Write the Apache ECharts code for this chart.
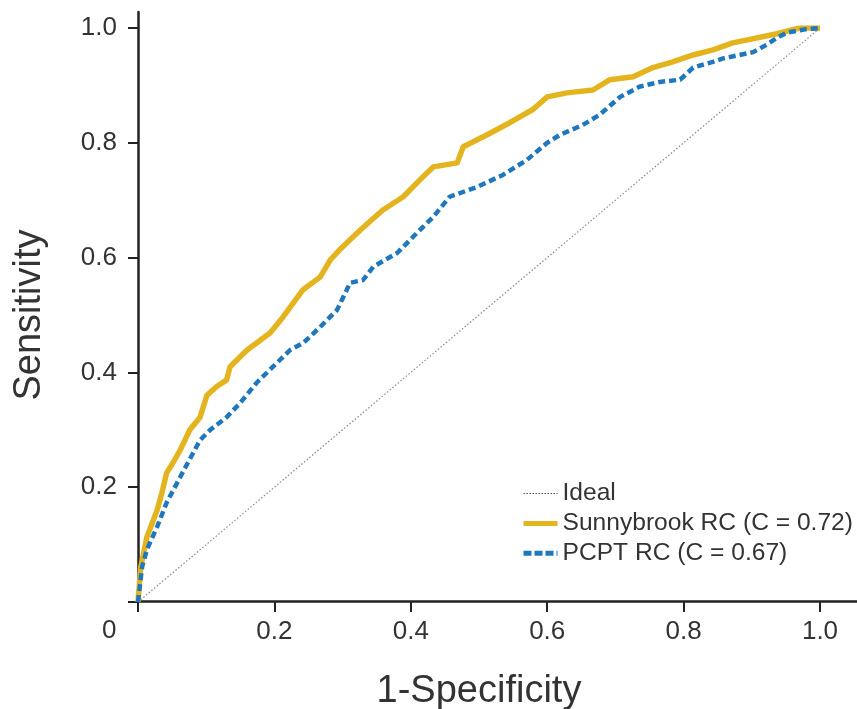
<!DOCTYPE html>
<html>
<head>
<meta charset="utf-8">
<script src="https://cdn.jsdelivr.net/npm/echarts@6/dist/echarts.min.js"></script>
<style>
html,body{margin:0;padding:0;background:#fff;}
#chart{width:857px;height:709px;}
</style>
</head>
<body>
<div id="chart"></div>
<script>
// ---- data ----
const xTicks = [0, 0.2, 0.4, 0.6, 0.8, 1.0];
const yTicks = [0, 0.2, 0.4, 0.6, 0.8, 1.0];
const seriesNames = ['Ideal', 'Sunnybrook RC (C = 0.72)', 'PCPT RC (C = 0.67)'];
const idealPoints = [[0, 0], [1, 1]];
const sunnybrookPoints = [
  [0,0],[0.004,0.06],[0.013,0.113],[0.02,0.135],[0.028,0.16],[0.035,0.19],
  [0.042,0.225],[0.05,0.24],[0.062,0.265],[0.076,0.30],[0.091,0.322],[0.101,0.36],
  [0.115,0.375],[0.130,0.387],[0.135,0.410],[0.160,0.439],[0.194,0.469],[0.213,0.497],
  [0.242,0.544],[0.267,0.566],[0.282,0.596],[0.296,0.614],[0.326,0.648],[0.359,0.683],
  [0.389,0.706],[0.418,0.741],[0.433,0.758],[0.468,0.765],[0.477,0.793],[0.512,0.814],
  [0.545,0.835],[0.579,0.858],[0.600,0.880],[0.629,0.887],[0.667,0.892],[0.692,0.910],
  [0.726,0.915],[0.755,0.931],[0.784,0.941],[0.814,0.953],[0.843,0.962],[0.872,0.974],
  [0.937,0.99],[0.97,1.0],[1,1]
];
const pcptPoints = [
  [0,0],[0.006,0.061],[0.013,0.091],[0.028,0.131],[0.042,0.173],[0.062,0.218],
  [0.081,0.26],[0.091,0.282],[0.106,0.300],[0.130,0.322],[0.150,0.347],[0.174,0.382],
  [0.198,0.410],[0.223,0.439],[0.242,0.451],[0.267,0.479],[0.292,0.509],[0.311,0.556],
  [0.330,0.561],[0.345,0.584],[0.380,0.608],[0.409,0.643],[0.433,0.671],[0.457,0.706],
  [0.497,0.723],[0.535,0.744],[0.570,0.770],[0.600,0.800],[0.619,0.814],[0.652,0.831],
  [0.677,0.849],[0.707,0.880],[0.736,0.898],[0.765,0.906],[0.795,0.910],[0.814,0.931],
  [0.843,0.941],[0.858,0.947],[0.902,0.958],[0.922,0.971],[0.937,0.983],[0.952,0.992],
  [0.98,0.998],[1,1]
];

const FONT = '"Liberation Sans", Arial, sans-serif';
const TXT = '#333333';
const GOLD = '#e4b41f';
const BLUE = '#1f77bd';
const IDEAL = '#8a8a8a';

const chart = echarts.init(document.getElementById('chart'), null, {renderer: 'canvas'});

const fmt = v => (Math.abs(v) < 1e-9 ? '' : v.toFixed(1));

chart.setOption({
  animation: false,
  backgroundColor: '#ffffff',
  grid: [
    {left: 138, right: 37, top: 28, bottom: 107, containLabel: false, outerBoundsMode: 'none'},
    {left: 138, right: 0, top: 12, bottom: 108, containLabel: false, outerBoundsMode: 'none'}
  ],
  xAxis: [
    {
      type: 'value', gridIndex: 0, min: xTicks[0], max: xTicks[xTicks.length - 1], interval: 0.2,
      axisLine: {show: false},
      axisTick: {show: true, length: 10, inside: false, lineStyle: {color: '#222', width: 2}},
      splitLine: {show: false},
      axisLabel: {formatter: fmt, fontSize: 26, color: TXT, fontFamily: FONT, margin: 17},
      name: '1-Specificity', nameLocation: 'middle', nameGap: 71,
      nameTextStyle: {fontSize: 38, color: TXT, fontFamily: FONT}
    },
    {
      type: 'value', gridIndex: 1, min: 0, max: 1,
      axisLine: {show: true, onZero: false, lineStyle: {color: '#222', width: 2.5}},
      axisTick: {show: false}, axisLabel: {show: false}, splitLine: {show: false}
    }
  ],
  yAxis: [
    {
      type: 'value', gridIndex: 0, min: yTicks[0], max: yTicks[yTicks.length - 1], interval: 0.2,
      axisLine: {show: false},
      axisTick: {show: true, length: 10, inside: false, lineStyle: {color: '#222', width: 2}},
      splitLine: {show: false},
      axisLabel: {formatter: fmt, fontSize: 26, color: TXT, fontFamily: FONT, margin: 21},
      name: 'Sensitivity', nameLocation: 'middle', nameGap: 89, nameRotate: 90,
      nameTextStyle: {fontSize: 38, color: TXT, fontFamily: FONT}
    },
    {
      type: 'value', gridIndex: 1, min: 0, max: 1,
      axisLine: {show: true, onZero: false, lineStyle: {color: '#222', width: 2.5}},
      axisTick: {show: false}, axisLabel: {show: false}, splitLine: {show: false}
    }
  ],
  legend: {
    orient: 'vertical', left: 516, top: 476,
    itemWidth: 34, itemHeight: 14, itemGap: 4.9,
    textStyle: {fontSize: 24.6, lineHeight: 24.6, color: TXT, fontFamily: FONT, padding: [0, 0, 0, 0]},
    data: [
      {name: seriesNames[0], itemStyle: {opacity: 0}, lineStyle: {width: 1.2, type: [1.5, 1.5], color: '#555'}},
      {name: seriesNames[1], itemStyle: {opacity: 0}, lineStyle: {width: 5, type: 'solid', color: GOLD}},
      {name: seriesNames[2], itemStyle: {opacity: 0}, lineStyle: {width: 5, type: [8, 3], color: BLUE}}
    ]
  },
  series: [
    {
      name: seriesNames[0], type: 'line', xAxisIndex: 0, yAxisIndex: 0,
      data: idealPoints, symbol: 'none', silent: true,
      lineStyle: {color: IDEAL, width: 1.2, type: [1.5, 2]}, itemStyle: {color: IDEAL}, z: 1
    },
    {
      name: seriesNames[1], type: 'line', xAxisIndex: 0, yAxisIndex: 0,
      data: sunnybrookPoints, symbol: 'none',
      lineStyle: {color: GOLD, width: 5.5, join: 'round'}, itemStyle: {color: GOLD}, z: 2
    },
    {
      name: seriesNames[2], type: 'line', xAxisIndex: 0, yAxisIndex: 0,
      data: pcptPoints, symbol: 'none',
      lineStyle: {color: BLUE, width: 4.5, type: [7, 4]}, itemStyle: {color: BLUE}, z: 3
    }
  ],
  graphic: [
    {type: 'text', left: 102, top: 618, style: {text: '0', fontSize: 26, fill: TXT, fontFamily: FONT}}
  ]
});
</script>
</body>
</html>
